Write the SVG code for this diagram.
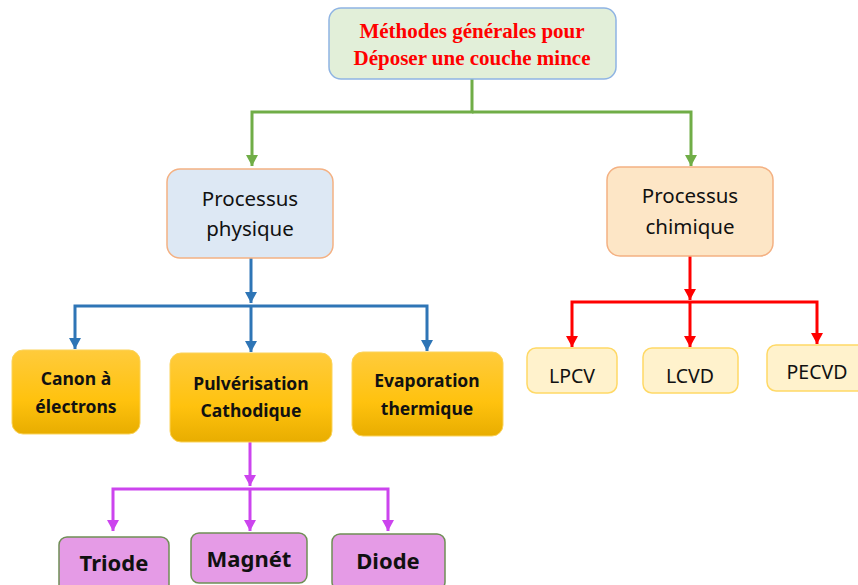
<svg xmlns="http://www.w3.org/2000/svg" width="858" height="585" viewBox="0 0 858 585">
<style>
.t{font-family:"Noto Sans","DejaVu Sans",sans-serif;fill:#111;text-anchor:middle}
.title{font-family:"Liberation Serif","Times New Roman",serif;font-weight:bold;font-size:21px;fill:#ff0000;text-anchor:middle}
.l1{font-size:20.5px}
.l2{font-size:17.5px;font-weight:bold}
.l3{font-size:19.5px}
.l4{font-size:22px;font-weight:bold}
.c{fill:none;stroke-width:3;stroke-linejoin:miter}
.lv2{fill:url(#gold);stroke:#fbd35a;stroke-width:1}
.lv3{fill:#fff2cc;stroke:#ffd966;stroke-width:1.5}
.lv4{fill:#e59be6;stroke:#6f8f55;stroke-width:1.5}
</style>
<defs>
<linearGradient id="gold" x1="0" y1="0" x2="0" y2="1">
<stop offset="0" stop-color="#ffcb3c"/>
<stop offset="0.6" stop-color="#ffc20e"/>
<stop offset="1" stop-color="#e8ad00"/>
</linearGradient>
<marker id="ab" markerUnits="userSpaceOnUse" markerWidth="12" markerHeight="12" viewBox="0 0 12 12" refX="11" refY="6" orient="auto"><path d="M0,0 L11,6 L0,12 Z" fill="#2e75b6"/></marker>
<marker id="ar" markerUnits="userSpaceOnUse" markerWidth="12" markerHeight="12" viewBox="0 0 12 12" refX="11" refY="6" orient="auto"><path d="M0,0 L11,6 L0,12 Z" fill="#ff0000"/></marker>
<marker id="am" markerUnits="userSpaceOnUse" markerWidth="12" markerHeight="12" viewBox="0 0 12 12" refX="11" refY="6" orient="auto"><path d="M0,0 L11,6 L0,12 Z" fill="#cc44ee"/></marker>
<marker id="agr" markerUnits="userSpaceOnUse" markerWidth="12" markerHeight="12" viewBox="0 0 12 12" refX="11" refY="6" orient="auto"><path d="M0,0 L11,6 L0,12 Z" fill="#70ad47"/></marker>
</defs>

<g id="connectors">
<path class="c" stroke="#70ad47" d="M472,79 V112 H252 V166" marker-end="url(#agr)"/>
<path class="c" stroke="#70ad47" d="M472,112 H691 V166" marker-end="url(#agr)"/>
<path class="c" stroke="#2e75b6" d="M251,258 V303" marker-end="url(#ab)"/>
<path class="c" stroke="#2e75b6" d="M251,306 H75 V349" marker-end="url(#ab)"/>
<path class="c" stroke="#2e75b6" d="M251,306 V352" marker-end="url(#ab)"/>
<path class="c" stroke="#2e75b6" d="M251,306 H427 V351" marker-end="url(#ab)"/>
<path class="c" stroke="#ff0000" d="M690,256 V300" marker-end="url(#ar)"/>
<path class="c" stroke="#ff0000" d="M690,302 H572 V347" marker-end="url(#ar)"/>
<path class="c" stroke="#ff0000" d="M690,302 V347" marker-end="url(#ar)"/>
<path class="c" stroke="#ff0000" d="M690,302 H817 V344" marker-end="url(#ar)"/>
<path class="c" stroke="#cc44ee" d="M250,442 V486" marker-end="url(#am)"/>
<path class="c" stroke="#cc44ee" d="M250,489 H113 V531" marker-end="url(#am)"/>
<path class="c" stroke="#cc44ee" d="M250,489 V531" marker-end="url(#am)"/>
<path class="c" stroke="#cc44ee" d="M250,489 H388 V531" marker-end="url(#am)"/>
</g>

<g id="root">
<rect x="329" y="8" width="287" height="71" rx="12" fill="#e2efd9" stroke="#8fb4e3" stroke-width="1.5"/>
<text class="title" x="472" y="38">Méthodes générales pour</text>
<text class="title" x="472" y="65">Déposer une couche mince</text>
</g>

<g id="physique">
<rect x="167" y="169" width="166" height="89" rx="13" fill="#dde8f4" stroke="#f4b183" stroke-width="1.5"/>
<text class="t l1" x="250" y="206">Processus</text>
<text class="t l1" x="250" y="236">physique</text>
</g>

<g id="chimique">
<rect x="607" y="167" width="166" height="89" rx="13" fill="#fde6c6" stroke="#f4b183" stroke-width="1.5"/>
<text class="t l1" x="690" y="203">Processus</text>
<text class="t l1" x="690" y="234">chimique</text>
</g>

<g id="canon">
<rect class="lv2" x="12" y="350" width="128" height="84" rx="11"/>
<text class="t l2" x="76" y="385">Canon à</text>
<text class="t l2" x="76" y="413">électrons</text>
</g>

<g id="pulverisation">
<rect class="lv2" x="170" y="353" width="162" height="89" rx="11"/>
<text class="t l2" x="251" y="390">Pulvérisation</text>
<text class="t l2" x="251" y="417">Cathodique</text>
</g>

<g id="evaporation">
<rect class="lv2" x="352" y="352" width="151" height="84" rx="11"/>
<text class="t l2" x="427" y="387">Evaporation</text>
<text class="t l2" x="427" y="415">thermique</text>
</g>

<g id="lpcv">
<rect class="lv3" x="527" y="348" width="90" height="45" rx="9"/>
<text class="t l3" x="572" y="383">LPCV</text>
</g>

<g id="lcvd">
<rect class="lv3" x="643" y="348" width="95" height="45" rx="9"/>
<text class="t l3" x="690" y="383">LCVD</text>
</g>

<g id="pecvd">
<rect class="lv3" x="767" y="345" width="100" height="46" rx="9"/>
<text class="t l3" x="817" y="379">PECVD</text>
</g>

<g id="triode">
<rect class="lv4" x="59" y="537" width="110" height="56" rx="8"/>
<text class="t l4" x="114" y="571">Triode</text>
</g>

<g id="magnet">
<rect class="lv4" x="191" y="533" width="116" height="50" rx="8"/>
<text class="t l4" x="249" y="567">Magnét</text>
</g>

<g id="diode">
<rect class="lv4" x="332" y="534" width="113" height="56" rx="8"/>
<text class="t l4" x="388" y="569">Diode</text>
</g>
</svg>
